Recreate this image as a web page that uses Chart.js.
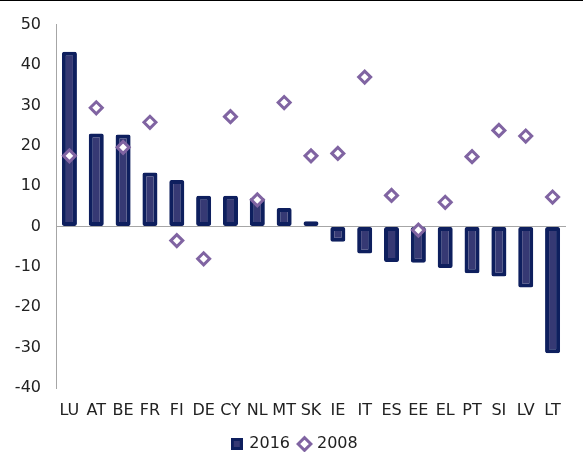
<!DOCTYPE html>
<html>
<head>
<meta charset="utf-8">
<script src="https://cdn.jsdelivr.net/npm/chart.js@4"></script>
<style>
    html, body { margin: 0; padding: 0; background: #fff; }
    #wrap { width: 584px; height: 452px; position: relative; }
</style>
</head>
<body>
<div id="wrap"><canvas id="chart"></canvas></div>
<script>
const countries = ['LU', 'AT', 'BE', 'FR', 'FI', 'DE', 'CY', 'NL', 'MT', 'SK', 'IE', 'IT', 'ES', 'EE', 'EL', 'PT', 'SI', 'LV', 'LT'];
const values2016 = [43.3, 23, 22.8, 13.4, 11.5, 7.6, 7.6, 7.1, 4.6, 1.3, -3.8, -6.7, -8.8, -9.0, -10.3, -11.6, -12.4, -15.1, -31.4];
const values2008 = [17.5, 29.4, 19.6, 25.8, -3.5, -8.0, 27.2, 6.6, 30.7, 17.5, 18.1, 37.0, 7.7, -0.9, 6.0, 17.3, 23.8, 22.4, 7.3];
const yTicks = { min: -40, max: 50, step: 10 };

const navy = '#0e1f5e';
const navyFill = '#363974';
const purple = '#8064a2';

// legend square for the bars, drawn once
const barSwatch = document.createElement('canvas');
barSwatch.width = 12;
barSwatch.height = 12;
(function() {
    const c = barSwatch.getContext('2d');
    c.fillStyle = navy;
    c.fillRect(0, 0, 12, 12);
    c.fillStyle = navyFill;
    c.fillRect(3, 3, 6, 6);
})();

const topLine = {
    id: 'topLine',
    afterDraw(chart) {
        const c = chart.ctx;
        c.save();
        c.fillStyle = '#000';
        c.fillRect(0, 0, chart.width - 1, 1);
        c.restore();
    }
};

// the legend sits a little right of the canvas centre
const legendShift = {
    id: 'legendShift',
    afterLayout(chart) {
        if (chart.legend) {
            chart.legend.left += 12;
            chart.legend.right += 12;
        }
    }
};

const labelFont = { family: '"DejaVu Sans", Verdana, sans-serif', size: 16 };

new Chart(document.getElementById('chart'), {
    data: {
        labels: countries,
        datasets: [
            {
                type: 'bar',
                label: '2016',
                data: values2016,
                backgroundColor: navyFill,
                borderColor: navy,
                borderWidth: 4,
                borderSkipped: false,
                borderRadius: 2,
                barPercentage: 0.56,
                categoryPercentage: 1,
                pointStyle: barSwatch,
                order: 2
            },
            {
                type: 'line',
                label: '2008',
                data: values2008,
                showLine: false,
                pointStyle: 'rectRot',
                pointRadius: 6,
                pointBorderWidth: 3,
                borderWidth: 3,
                borderColor: purple,
                backgroundColor: '#ffffff',
                pointBackgroundColor: '#ffffff',
                pointBorderColor: purple,
                order: 1
            }
        ]
    },
    options: {
        responsive: true,
        maintainAspectRatio: false,
        animation: false,
        layout: { padding: { top: 22, right: 18, left: 0, bottom: -10 } },
        plugins: {
            legend: {
                position: 'bottom',
                labels: {
                    usePointStyle: true,
                    boxWidth: 9,
                    boxHeight: 9,
                    padding: 10,
                    color: '#222',
                    font: labelFont,
                    sort: function(a, b) {
                        return a.datasetIndex - b.datasetIndex;
                    }
                }
            },
            tooltip: { enabled: false }
        },
        scales: {
            x: {
                grid: { display: false, drawTicks: false },
                border: { display: false },
                ticks: {
                    color: '#222',
                    font: labelFont,
                    padding: 13,
                    maxRotation: 0,
                    autoSkip: false
                },
                afterFit: function(scale) {
                    scale.height = 38;
                }
            },
            y: {
                min: yTicks.min,
                max: yTicks.max,
                grid: {
                    drawTicks: false,
                    color: function(ctx) {
                        return ctx.tick && ctx.tick.value === 0 ? '#a6a6a6' : 'rgba(0,0,0,0)';
                    },
                    lineWidth: 1
                },
                border: { display: true, color: '#a6a6a6' },
                ticks: {
                    stepSize: yTicks.step,
                    color: '#222',
                    font: labelFont,
                    padding: 15
                },
                afterFit: function(scale) {
                    scale.width = 56;
                }
            }
        }
    },
    plugins: [topLine, legendShift]
});
</script>
</body>
</html>
